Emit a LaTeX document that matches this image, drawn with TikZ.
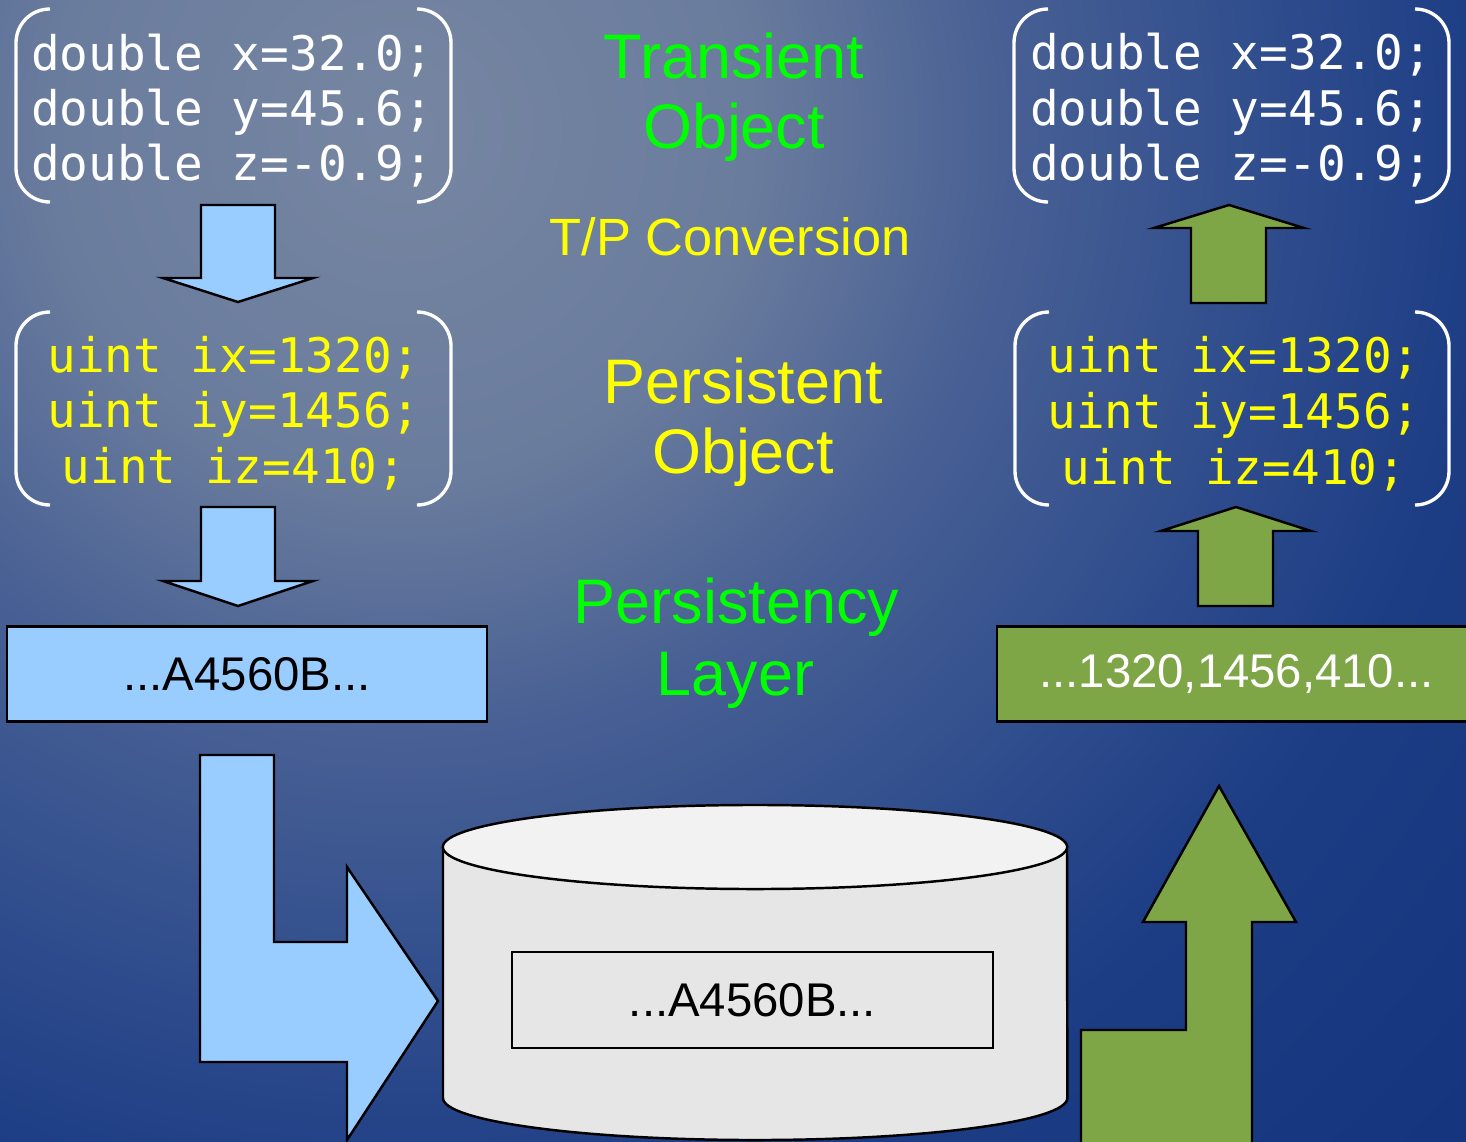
\documentclass[tikz,border=0pt]{standalone}
\usepackage{fontspec}
\setmainfont{Liberation Sans}
\newfontfamily\codefont{DejaVu Sans Mono}
\definecolor{bgA}{RGB}{118,134,162}
\definecolor{bgB}{RGB}{106,124,157}
\definecolor{bgC}{RGB}{72,96,148}
\definecolor{bgD}{RGB}{45,75,140}
\definecolor{bgE}{RGB}{28,60,132}
\definecolor{bgF}{RGB}{20,52,126}
\definecolor{lblue}{HTML}{99CCFF}
\definecolor{lgreen}{HTML}{7EA646}
\definecolor{brightgreen}{HTML}{00FF00}
\definecolor{brightyellow}{HTML}{FFFF00}
\definecolor{cyltop}{HTML}{F2F2F2}
\definecolor{cylside}{HTML}{E6E6E6}
\pgfdeclareradialshading{bgshade}{\pgfpoint{0bp}{0bp}}{color(0bp)=(bgA); color(5.5bp)=(bgB); color(9.4bp)=(bgC); color(14bp)=(bgD); color(17.2bp)=(bgE); color(23.4bp)=(bgF); color(50bp)=(bgF)}
\tikzset{
  codeline/.style={font=\codefont\fontsize{13.55pt}{15pt}\selectfont, anchor=base, inner sep=0pt},
  biglabel/.style={font=\fontsize{17.9pt}{20pt}\selectfont, anchor=base, inner sep=0pt},
  midlabel/.style={font=\fontsize{14.9pt}{17pt}\selectfont, anchor=base, inner sep=0pt},
  datatext/.style={font=\fontsize{13.45pt}{15pt}\selectfont, inner sep=0pt},
  bracketline/.style={draw=white, line width=0.95pt},
  blockarrow/.style={draw=black, line width=0.7pt, line join=miter},
  databox/.style={draw=black, line width=0.7pt, datatext, minimum height=0.95cm}
}
\newcommand{\codebrackets}[4]{%
  \draw[bracketline] ({#1+34},#3) .. controls ({#1+15},#3) and (#1,{#3+15}) .. (#1,{#3+34})
    -- (#1,{#4-34}) .. controls (#1,{#4-15}) and ({#1+15},#4) .. ({#1+34},#4);
  \draw[bracketline] ({#2-34},#3) .. controls ({#2-15},#3) and (#2,{#3+15}) .. (#2,{#3+34})
    -- (#2,{#4-34}) .. controls (#2,{#4-15}) and ({#2-15},#4) .. ({#2-34},#4);
}
\begin{document}
\begin{tikzpicture}[x=0.01cm, y=-0.01cm]
\useasboundingbox (0,0) rectangle (1466,1142);
\begin{scope}
  \clip (0,0) rectangle (1466,1142);
  \fill[bgF] (0,0) rectangle (1466,1142);
  \shade[shading=bgshade] (400,130) circle [radius=16cm];
\end{scope}

% code brackets
\codebrackets{16}{451}{9}{202}
\codebrackets{16}{451}{312}{505}
\codebrackets{1014}{1449}{9}{202}
\codebrackets{1015}{1449}{312}{505}

% code text
\node[codeline, text=white] (tl1) at (232,70) {double x=32.0;};
\node[codeline, text=white] (tl2) at (232,125) {double y=45.6;};
\node[codeline, text=white] (tl3) at (232,180) {double z=-0.9;};
\node[codeline, text=brightyellow] (ml1) at (234,372) {uint ix=1320;};
\node[codeline, text=brightyellow] (ml2) at (234,427) {uint iy=1456;};
\node[codeline, text=brightyellow] (ml3) at (234,483) {uint iz=410;};
\node[codeline, text=white] (tr1) at (1231,69) {double x=32.0;};
\node[codeline, text=white] (tr2) at (1231,125) {double y=45.6;};
\node[codeline, text=white] (tr3) at (1231,180) {double z=-0.9;};
\node[codeline, text=brightyellow] (mr1) at (1234,372) {uint ix=1320;};
\node[codeline, text=brightyellow] (mr2) at (1234,428) {uint iy=1456;};
\node[codeline, text=brightyellow] (mr3) at (1234,484) {uint iz=410;};

% middle labels
\node[biglabel, text=brightgreen] (tra) at (734,78) {Transient};
\node[biglabel, text=brightgreen] (trb) at (734,148) {Object};
\node[midlabel, text=brightyellow] (tp) at (730,255) {T/P Conversion};
\node[biglabel, text=brightyellow] (pea) at (743,403) {Persistent};
\node[biglabel, text=brightyellow] (peb) at (743,473) {Object};
\node[biglabel, text=brightgreen] (pla) at (736.5,623) {Persistency};
\node[biglabel, text=brightgreen] (plb) at (735.5,695) {Layer};

% blue down arrows
\filldraw[blockarrow, fill=lblue] (201,205) -- (275,205) -- (275,278) -- (313,278) -- (238,302) -- (163,278) -- (201,278) -- cycle;
\filldraw[blockarrow, fill=lblue] (201,507) -- (275,507) -- (275,581) -- (313,581) -- (238,606) -- (163,581) -- (201,581) -- cycle;

% green up arrows
\filldraw[blockarrow, fill=lgreen] (1191,303) -- (1266,303) -- (1266,228) -- (1304,228) -- (1229,205) -- (1154,228) -- (1191,228) -- cycle;
\filldraw[blockarrow, fill=lgreen] (1198,606) -- (1273,606) -- (1273,531) -- (1311,531) -- (1236,507) -- (1161,531) -- (1198,531) -- cycle;

% data boxes
\node[databox, fill=lblue, text=black, minimum width=4.80cm] (bluebox) at (247,674) {...A4560B...};
\node[databox, fill=lgreen, text=white, minimum width=4.79cm] (greenbox) at (1236.5,674) {...1320,1456,410...};

% cylinder
\filldraw[draw=black, line width=0.7pt, fill=cylside] (443,847) -- (443,1098)
  arc[start angle=180, end angle=360, x radius=3.12cm, y radius=0.42cm] -- (1067,847) -- cycle;
\filldraw[draw=black, line width=0.7pt, fill=cyltop] (755,847) ellipse [x radius=3.12cm, y radius=0.42cm];
\node[databox, fill=cylside, text=black, minimum width=4.81cm, minimum height=0.96cm] (storebox) at (752.5,1000) {...A4560B...};

% L-shaped arrows
\filldraw[blockarrow, fill=lblue] (200,755) -- (274,755) -- (274,942) -- (347,942) -- (347,867) -- (438,1001) -- (347,1140) -- (347,1062) -- (200,1062) -- cycle;
\filldraw[blockarrow, fill=lgreen] (1081,1150) -- (1081,1030) -- (1186,1030) -- (1186,922) -- (1143,922) -- (1219,786) -- (1296,922) -- (1252,922) -- (1252,1150) -- cycle;
\end{tikzpicture}
\end{document}
